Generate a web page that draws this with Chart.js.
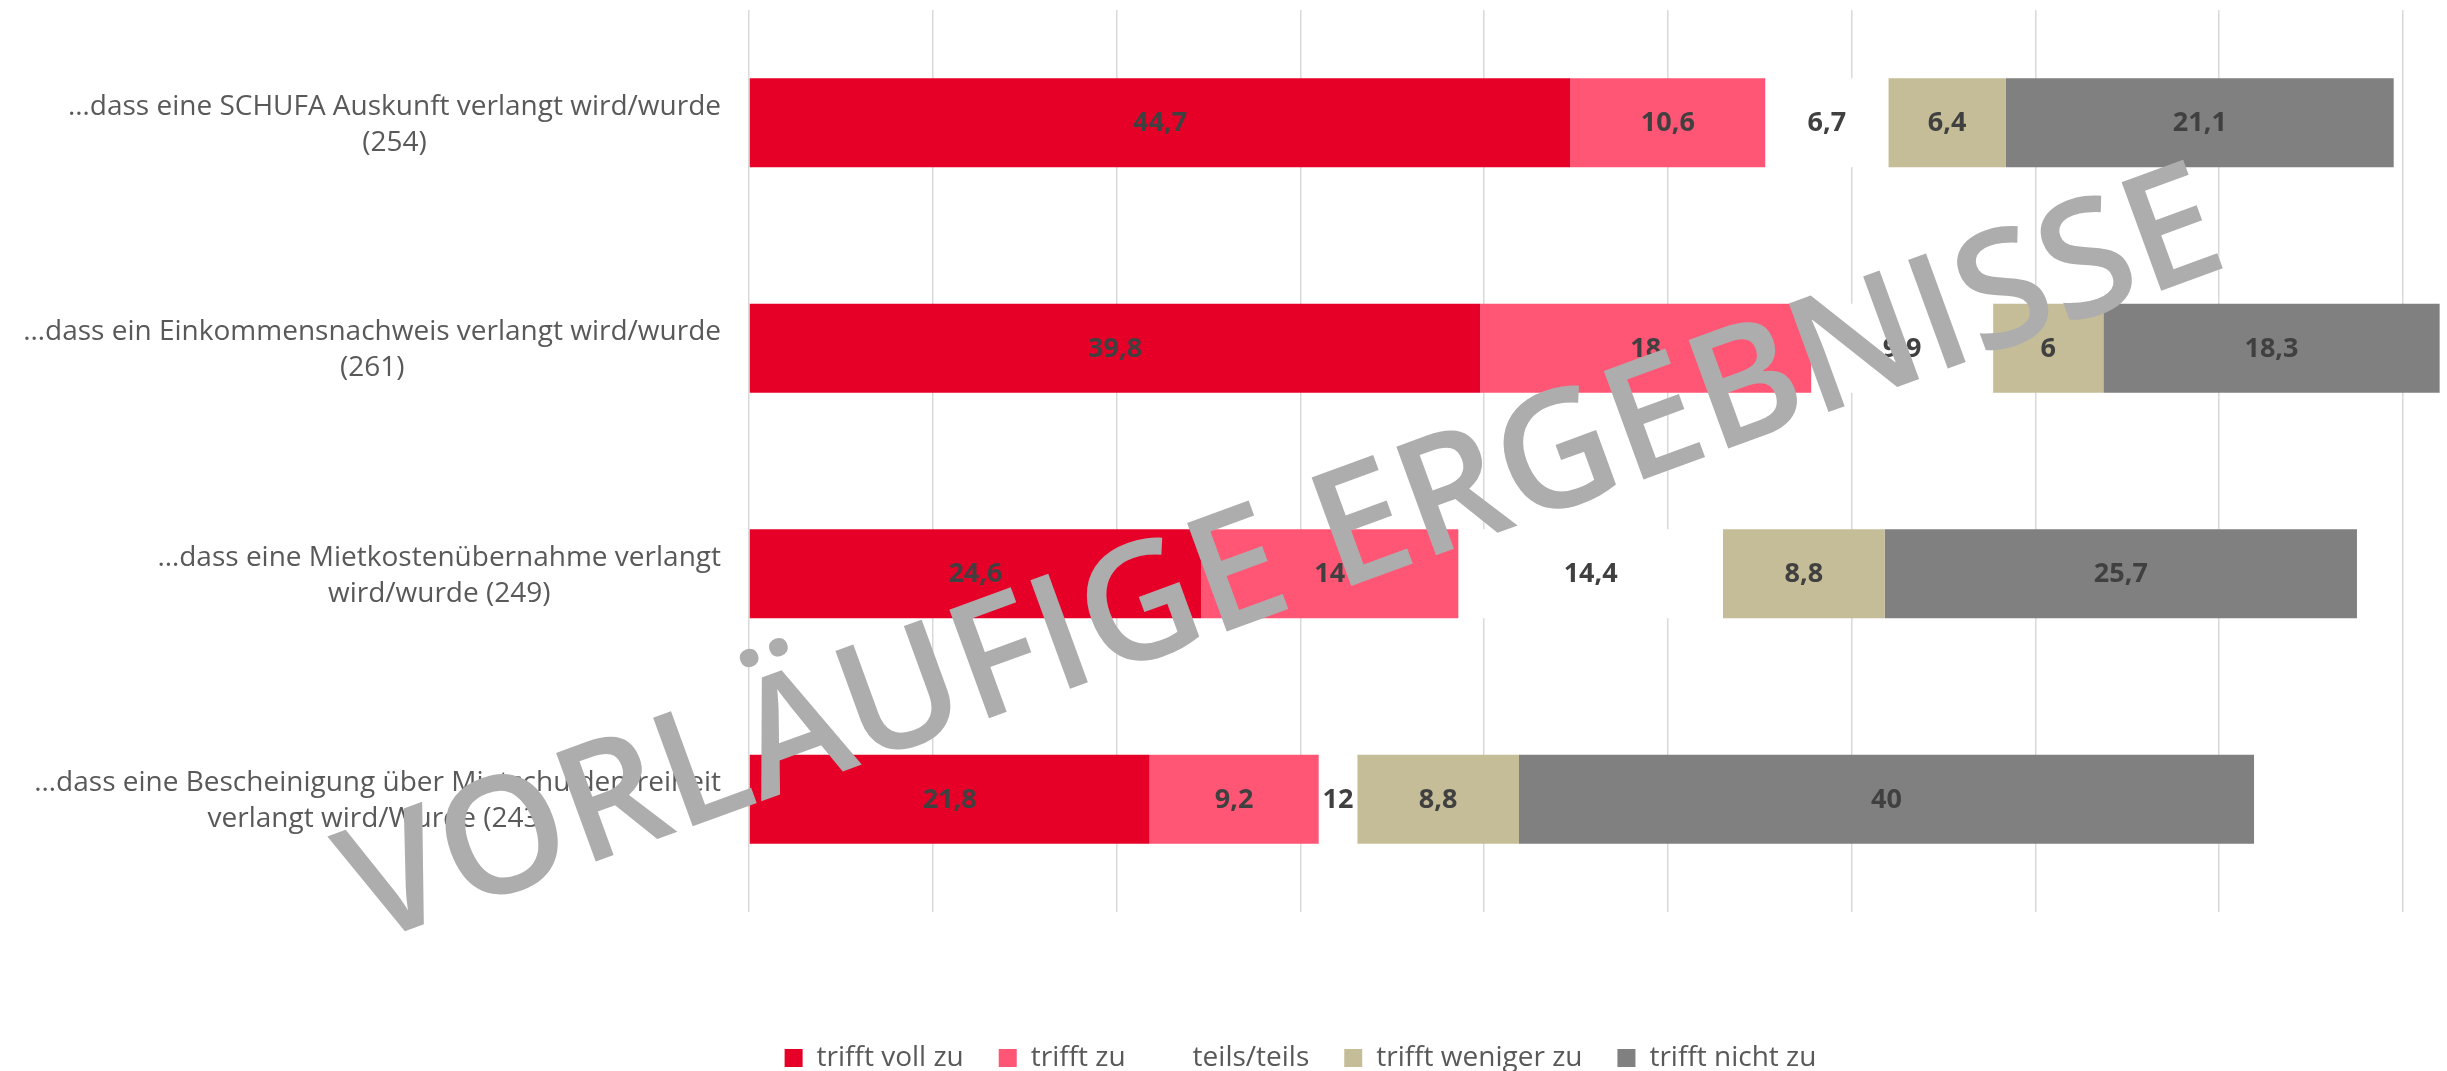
<!DOCTYPE html>
<html lang="de">
<head>
<meta charset="utf-8">
<title>Anforderungen bei der Wohnungssuche</title>
<script src="https://cdn.jsdelivr.net/npm/chart.js@4/dist/chart.umd.min.js"></script>
<style>
    html, body { margin: 0; padding: 0; background: #ffffff; overflow: hidden; }
    /* a bit taller than the window so the legend sits as low as in the original */
    #wrap { width: 2447px; height: 1082px; position: relative; }
</style>
</head>
<body>
<div id="wrap"><canvas id="stackChart"></canvas></div>
<script>
// Categories (each label split into its two lines)
const categories = [
    ['…dass eine SCHUFA Auskunft verlangt wird/wurde', '(254)'],
    ['…dass ein Einkommensnachweis verlangt wird/wurde', '(261)'],
    ['…dass eine Mietkostenübernahme verlangt', 'wird/wurde (249)'],
    ['…dass eine Bescheinigung über Mietschuldenfreiheit', 'verlangt wird/Wurde (243)']
];

// Series values (percent)
const trifftVollZu = [44.7, 39.8, 24.6, 21.8];
const trifftZu = [10.6, 18, 14, 9.2];
const teilsTeils = [6.7, 9.9, 14.4, 2.1];
const trifftWenigerZu = [6.4, 6, 8.8, 8.8];
const trifftNichtZu = [21.1, 18.3, 25.7, 40];

// Labels shown on the teils/teils segments (the last one reads "12" in the original)
const teilsTeilsLabels = ['6,7', '9,9', '14,4', '12'];

const seriesNames = ['trifft voll zu', 'trifft zu', 'teils/teils', 'trifft weniger zu', 'trifft nicht zu'];

// x axis range and grid step
const axisMax = 92.4;
const gridStep = 10;

const watermarkText = 'VORLÄUFIGE ERGEBNISSE';

document.addEventListener('DOMContentLoaded', () => {
    const ctx = document.getElementById('stackChart').getContext('2d');

    // Number format with decimal comma
    const fmt = v => String(v).replace('.', ',');

    // Draw the value in the middle of each bar segment
    const segmentLabels = {
        id: 'segmentLabels',
        afterDatasetsDraw(chart) {
            const c = chart.ctx;
            c.save();
            c.font = 'bold 27px "Open Sans"';
            c.fillStyle = '#404040';
            c.textAlign = 'center';
            c.textBaseline = 'middle';
            chart.data.datasets.forEach((ds, di) => {
                const meta = chart.getDatasetMeta(di);
                meta.data.forEach((bar, i) => {
                    const p = bar.getCenterPoint();
                    const text = ds.valueLabels ? ds.valueLabels[i] : fmt(ds.data[i]);
                    c.fillText(text, p.x, p.y + 1);
                });
            });
            c.restore();
        }
    };

    // Category labels: block right aligned, lines centred in the block
    const categoryLabels = {
        id: 'categoryLabels',
        afterDraw(chart) {
            const c = chart.ctx;
            const yScale = chart.scales.y;
            const rightEdge = 721;
            const lineGap = 36;
            c.save();
            c.font = '28px "Open Sans"';
            c.fillStyle = '#595959';
            c.textAlign = 'center';
            c.textBaseline = 'middle';
            categories.forEach((lines, i) => {
                const y = yScale.getPixelForValue(i);
                const blockW = Math.max(...lines.map(l => c.measureText(l).width));
                const cx = rightEdge - blockW / 2;
                const top = y + 2 - (lines.length - 1) * lineGap / 2;
                lines.forEach((l, k) => c.fillText(l, cx, top + k * lineGap));
            });
            c.restore();
        }
    };

    // Grey diagonal watermark over the whole chart
    const watermark = {
        id: 'watermark',
        afterDraw(chart) {
            const c = chart.ctx;
            const start = { x: 367, y: 945 };
            const end = { x: 2232, y: 265 };
            const len = Math.hypot(end.x - start.x, end.y - start.y);
            const angle = Math.atan2(end.y - start.y, end.x - start.x);
            c.save();
            c.font = '600 150px "Open Sans"';
            const size = 150 * len / c.measureText(watermarkText).width;
            c.font = '600 ' + size.toFixed(1) + 'px "Open Sans"';
            c.translate((start.x + end.x) / 2, (start.y + end.y) / 2);
            c.rotate(angle);
            c.fillStyle = '#adadad';
            c.textAlign = 'center';
            c.textBaseline = 'alphabetic';
            c.fillText(watermarkText, 0, 0);
            c.restore();
        }
    };

    const colors = ['#e60028', '#ff5675', '#ffffff', '#c5bd98', '#808080'];
    const values = [trifftVollZu, trifftZu, teilsTeils, trifftWenigerZu, trifftNichtZu];

    const datasets = seriesNames.map((name, i) => ({
        label: name,
        data: values[i],
        backgroundColor: colors[i],
        borderWidth: 0,
        barPercentage: 0.395,
        categoryPercentage: 1
    }));
    datasets[2].valueLabels = teilsTeilsLabels;

    new Chart(ctx, {
        type: 'bar',
        data: {
            labels: categories,
            datasets: datasets
        },
        options: {
            indexAxis: 'y',
            responsive: true,
            maintainAspectRatio: false,
            animation: false,
            layout: { padding: { top: 10, left: 154, right: 0, bottom: 0 } },
            scales: {
                x: {
                    stacked: true,
                    min: 0,
                    max: axisMax,
                    border: { display: false },
                    grid: { color: '#d9d9d9', lineWidth: 1.5, drawTicks: false },
                    ticks: { display: false, stepSize: gridStep },
                    afterBuildTicks(s) {
                        s.ticks = s.ticks.filter(t => t.value % gridStep === 0);
                    },
                    afterFit(s) { s.height = 97; }
                },
                y: {
                    stacked: true,
                    border: { display: false },
                    grid: { display: false },
                    ticks: { display: false },
                    afterFit(s) { s.width = 595; }
                }
            },
            plugins: {
                legend: {
                    position: 'bottom',
                    labels: {
                        boxWidth: 18,
                        boxHeight: 18,
                        padding: 35,
                        color: '#595959',
                        font: { family: '"Open Sans"', size: 28 }
                    }
                },
                tooltip: { enabled: false }
            }
        },
        plugins: [segmentLabels, categoryLabels, watermark]
    });
});
</script>
</body>
</html>
